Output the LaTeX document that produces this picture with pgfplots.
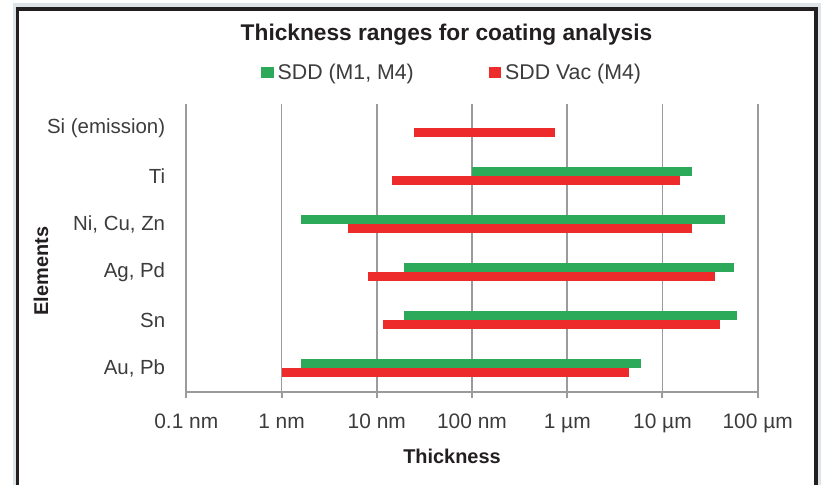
\documentclass[border=0pt]{standalone}
\usepackage{pgfplots}
\pgfplotsset{compat=1.18}
\usepackage{fontspec}
\setmainfont{Liberation Sans}
\definecolor{sddgreen}{RGB}{44,170,90}
\definecolor{sddred}{RGB}{238,43,43}
\definecolor{gridgrey}{RGB}{155,155,158}
\definecolor{txt}{RGB}{60,60,62}
\definecolor{framegrey}{RGB}{222,227,232}
\definecolor{framedark}{RGB}{35,31,32}
\begin{document}
\begin{tikzpicture}
\useasboundingbox (0bp,0bp) rectangle (821bp,-485bp);
\fill[framegrey] (12.7bp,-3.3bp) rectangle (821bp,-485bp);
\fill[framedark] (16bp,-7.3bp) rectangle (818.3bp,-485bp);
\fill[white] (19.3bp,-10.7bp) rectangle (814.3bp,-485bp);
\begin{axis}[
  at={(186.3bp,-392bp)}, anchor=south west,
  scale only axis, width=571.4bp, height=288bp,
  xmode=log, xmin=0.1, xmax=100000,
  ymin=-0.5, ymax=5.5, y dir=reverse,
  axis x line*=bottom, axis y line*=left,
  axis line style={-, gridgrey, line width=2bp},
  xtick={0.1,1,10,100,1000,10000,100000},
  xticklabels={0.1 nm,1 nm,10 nm,100 nm,1 µm,10 µm,100 µm},
  xminorticks=false,
  ytick={0,1,2,3,4,5},
  yticklabels={Si (emission),Ti,{Ni, Cu, Zn},{Ag, Pd},Sn,{Au, Pb}},
  xmajorgrids, grid style={gridgrey, line width=1.8bp},
  tick align=outside,
  x tick style={gridgrey, line width=2bp},
  major tick length=6bp,
  y tick style={draw=none},
  xticklabel style={font=\fontsize{21}{24}\selectfont, text=txt, anchor=base, yshift=-30bp},
  yticklabel style={font=\fontsize{20.5}{24}\selectfont, text=txt, anchor=east, inner sep=0pt, xshift=-15bp},
  xlabel={Thickness}, ylabel={Elements},
  xlabel style={font=\fontsize{20}{24}\selectfont\bfseries, text=framedark, at={(axis description cs:0.465,-0.2465)}, anchor=base},
  ylabel style={font=\fontsize{20}{24}\selectfont\bfseries, text=framedark, at={(axis description cs:-0.242,0.42)}, anchor=base},
  title={Thickness ranges for coating analysis},
  title style={font=\fontsize{22.8}{27}\selectfont\bfseries, text=framedark, at={(axis description cs:0.4554,1.2014)}, anchor=base},
  legend columns=2,
  legend style={draw=none, fill=none, inner sep=0pt, column sep=0pt,
    nodes={inner sep=0pt, text=txt}, font=\fontsize{21.4}{25}\selectfont,
    at={(axis description cs:0.131,1.1104)}, anchor=west,
    /tikz/every even column/.append style={column sep=75bp}},
  legend image code/.code={\fill[draw=none] (0bp,-5.5bp) rectangle (12.3bp,5.5bp); \path[draw=none] (0bp,0bp) -- (16.3bp,0bp);},
  unbounded coords=jump,
]
% green: SDD (M1, M4); bars above category centre
\addplot[sddgreen, line width=9bp] table[x=x, y=y] {
x y
nan nan
100 0.906
20500 0.906
nan nan
1.6 1.906
45800 1.906
nan nan
19.5 2.906
57000 2.906
nan nan
19.5 3.906
61000 3.906
nan nan
1.6 4.906
6000 4.906
};
\addlegendentry{SDD (M1, M4)}
% red: SDD Vac (M4); bars below category centre
\addplot[sddred, line width=9bp] table[x=x, y=y] {
x y
24.6 0.094
740 0.094
nan nan
14.3 1.094
15100 1.094
nan nan
5.0 2.094
20500 2.094
nan nan
8.1 3.094
35700 3.094
nan nan
11.5 4.094
40000 4.094
nan nan
1.0 5.094
4400 5.094
};
\addlegendentry{SDD Vac (M4)}
\end{axis}
\end{tikzpicture}
\end{document}
